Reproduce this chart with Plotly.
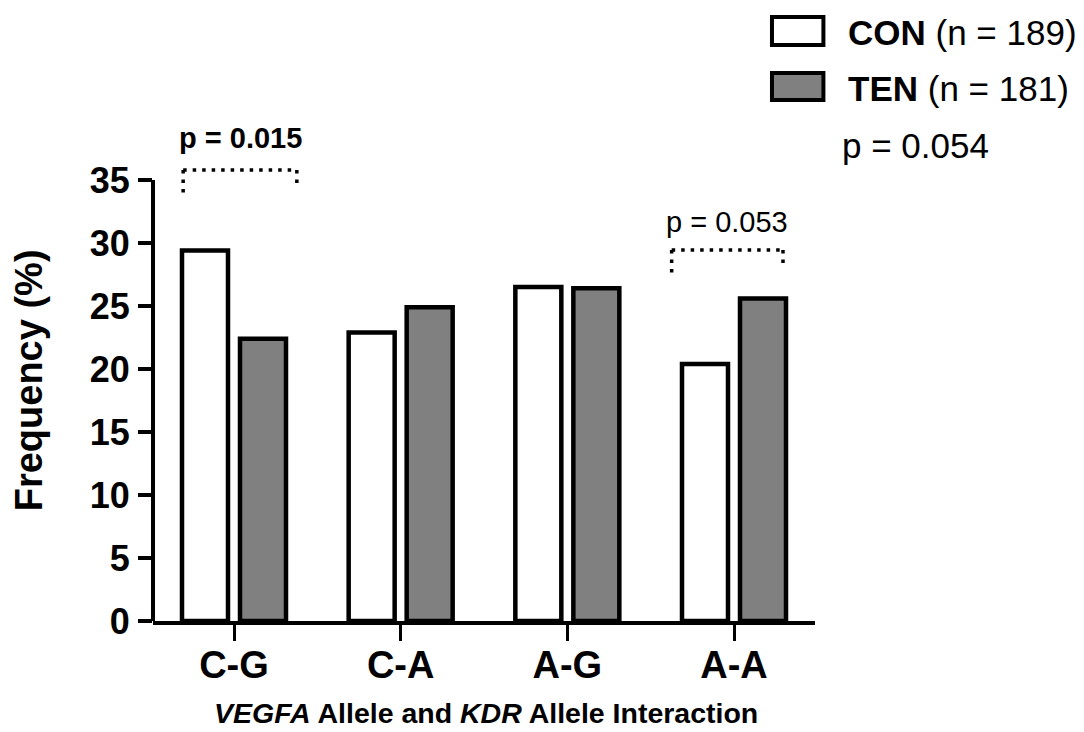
import plotly.graph_objects as go

categories = ["C-G", "C-A", "A-G", "A-A"]
con_values = [29.4, 22.9, 26.5, 20.4]
ten_values = [22.4, 24.9, 26.4, 25.6]
y_ticks = [0, 5, 10, 15, 20, 25, 30, 35]
con_label = "CON"
ten_label = "TEN"
con_n = 189
ten_n = 181
p_overall = "p = 0.054"
p_cg = "p = 0.015"
p_aa = "p = 0.053"

FONT = "Liberation Sans, Arial, Helvetica, sans-serif"
GRAY = "#808080"
xpos = list(range(len(categories)))

fig = go.Figure()
fig.add_trace(go.Bar(x=xpos, y=con_values, name=con_label,
                     marker=dict(color="white", line=dict(color="black", width=4.5)),
                     showlegend=False))
fig.add_trace(go.Bar(x=xpos, y=ten_values, name=ten_label,
                     marker=dict(color=GRAY, line=dict(color="black", width=4.5)),
                     showlegend=False))

# y-axis spine from 0 to 35 only
fig.add_shape(type="line", xref="paper", yref="y", x0=0, x1=0, y0=0, y1=y_ticks[-1],
              line=dict(color="black", width=4))

dash = "3.5px,6px"
# C-G bracket
fig.add_shape(type="line", xref="x", yref="y", x0=-0.305, x1=0.377, y0=35.8, y1=35.8,
              line=dict(color="black", width=3.5, dash=dash))
fig.add_shape(type="line", xref="x", yref="y", x0=-0.305, x1=-0.305, y0=35.8, y1=34.0,
              line=dict(color="black", width=3.5, dash=dash))
fig.add_shape(type="line", xref="x", yref="y", x0=0.377, x1=0.377, y0=35.8, y1=34.6,
              line=dict(color="black", width=3.5, dash=dash))
# A-A bracket
fig.add_shape(type="line", xref="x", yref="y", x0=3 - 0.374, x1=3 + 0.294, y0=29.45, y1=29.45,
              line=dict(color="black", width=3.5, dash=dash))
fig.add_shape(type="line", xref="x", yref="y", x0=3 - 0.374, x1=3 - 0.374, y0=29.45, y1=27.6,
              line=dict(color="black", width=3.5, dash=dash))
fig.add_shape(type="line", xref="x", yref="y", x0=3 + 0.294, x1=3 + 0.294, y0=29.45, y1=28.1,
              line=dict(color="black", width=3.5, dash=dash))

fig.add_annotation(x=0.036, y=38.3, xref="x", yref="y", text="<b>" + p_cg + "</b>",
                   showarrow=False, font=dict(family=FONT, size=29, color="black"))
fig.add_annotation(x=3 - 0.04, y=31.7, xref="x", yref="y", text=p_aa,
                   showarrow=False, font=dict(family=FONT, size=29, color="black"))

# custom legend
fig.add_shape(type="rect", xref="paper", yref="paper", x0=0.935, x1=1.0127, y0=1.1429, y1=1.1984,
              line=dict(color="black", width=4), fillcolor="white")
fig.add_shape(type="rect", xref="paper", yref="paper", x0=0.935, x1=1.0127, y0=1.0337, y1=1.0873,
              line=dict(color="black", width=4), fillcolor=GRAY)
fig.add_annotation(x=1.0468, y=1.1667, xref="paper", yref="paper", xanchor="left", yanchor="middle",
                   text=f"<b>{con_label}</b> (n = {con_n})", showarrow=False,
                   font=dict(family=FONT, size=35, color="black"))
fig.add_annotation(x=1.0468, y=1.0575, xref="paper", yref="paper", xanchor="left", yanchor="middle",
                   text=f"<b>{ten_label}</b> (n = {ten_n})", showarrow=False,
                   font=dict(family=FONT, size=35, color="black"))
fig.add_annotation(x=1.0378, y=0.9444, xref="paper", yref="paper", xanchor="left", yanchor="middle",
                   text=p_overall, showarrow=False,
                   font=dict(family=FONT, size=35, color="black"))

# axis titles
fig.add_annotation(x=0.503, y=-0.183, xref="paper", yref="paper", xanchor="center", yanchor="middle",
                   text="<b><i>VEGFA</i> Allele and <i>KDR</i> Allele Interaction</b>", showarrow=False,
                   font=dict(family=FONT, size=28.5, color="black"))
fig.add_annotation(x=-0.187, y=0.478, xref="paper", yref="paper", xanchor="center", yanchor="middle",
                   text="<b>Frequency (%)</b>", textangle=-90, showarrow=False,
                   font=dict(family=FONT, size=38, color="black"))

fig.update_layout(
    width=1076, height=724,
    margin=dict(l=145, r=269, t=109, b=111),
    paper_bgcolor="white", plot_bgcolor="white",
    barmode="group", bargap=0.304, bargroupgap=0.207,
    xaxis=dict(range=[-0.486, 3.486], tickmode="array", tickvals=xpos, ticktext=categories,
               showline=True, linecolor="black", linewidth=4, ticks="outside", ticklen=16,
               tickwidth=3, tickcolor="black", showgrid=False, zeroline=False,
               ticklabelstandoff=-9,
               tickfont=dict(family=FONT, size=38, color="black", weight="bold")),
    yaxis=dict(range=[0, 40], tickmode="array", tickvals=y_ticks, ticktext=[str(t) for t in y_ticks],
               showline=False, ticks="outside", ticklen=14, tickwidth=4, tickcolor="black",
               showgrid=False, zeroline=False, ticklabelstandoff=1,
               tickfont=dict(family=FONT, size=36, color="black", weight="bold")),
)

fig.write_html("out.html")
